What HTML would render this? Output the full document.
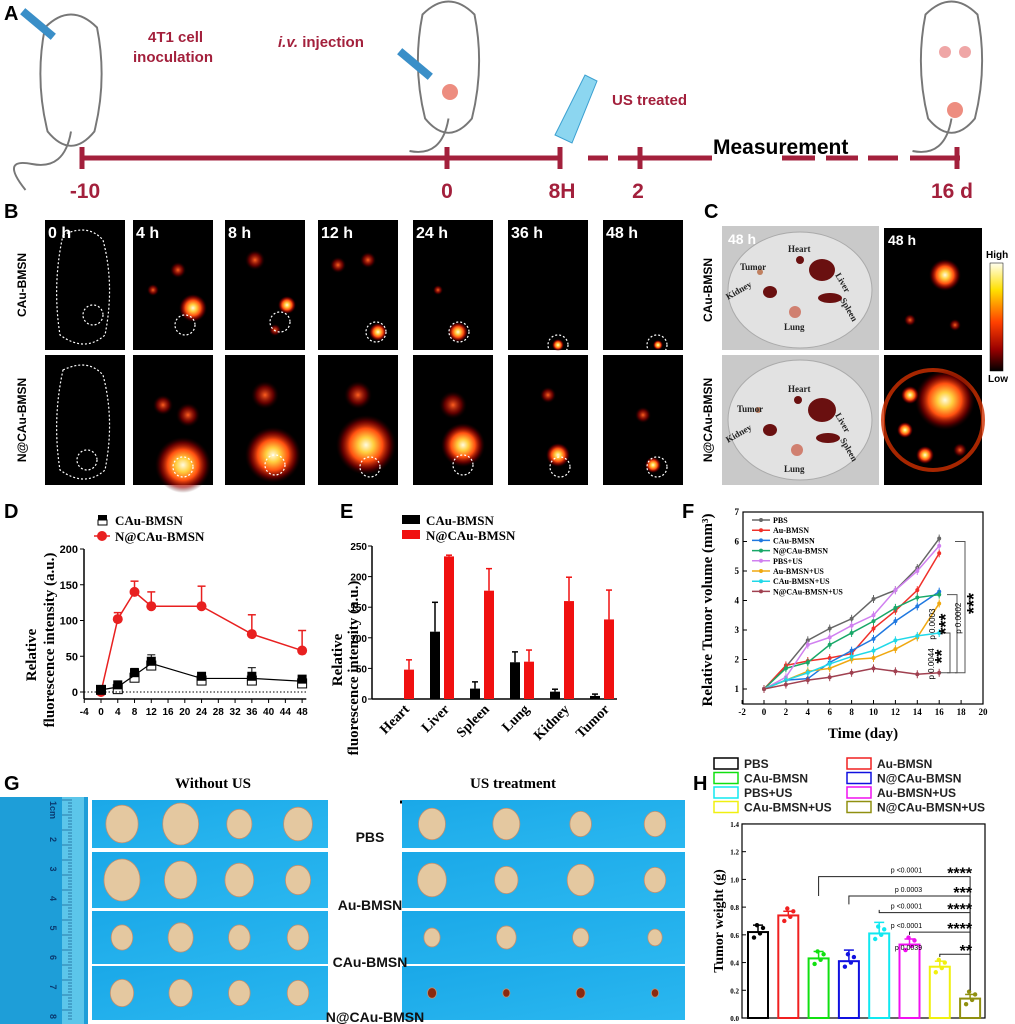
<!DOCTYPE html>
<html><head><meta charset="utf-8"><style>
html,body{margin:0;padding:0;background:#fff}
svg{display:block;font-family:"Liberation Sans",Arial,sans-serif}
.serif{font-family:"Liberation Serif","Times New Roman",serif;font-weight:bold}
</style></head><body>
<svg id="fig" width="1015" height="1024" viewBox="0 0 1015 1024" xmlns="http://www.w3.org/2000/svg">
<defs>
<radialGradient id="glow"><stop offset="0" stop-color="#fffbe0"/><stop offset="0.25" stop-color="#ffd040"/><stop offset="0.55" stop-color="#ff5010"/><stop offset="0.8" stop-color="#a00000" stop-opacity="0.6"/><stop offset="1" stop-color="#300" stop-opacity="0"/></radialGradient>
<radialGradient id="glowdim"><stop offset="0" stop-color="#ff6020"/><stop offset="0.6" stop-color="#a00000" stop-opacity="0.6"/><stop offset="1" stop-color="#200" stop-opacity="0"/></radialGradient>
<linearGradient id="cbar" x1="0" y1="0" x2="0" y2="1"><stop offset="0" stop-color="#fffff0"/><stop offset="0.25" stop-color="#ffe000"/><stop offset="0.55" stop-color="#ff4000"/><stop offset="0.8" stop-color="#900"/><stop offset="1" stop-color="#000"/></linearGradient>
<linearGradient id="blue" x1="0" y1="0" x2="1" y2="1"><stop offset="0" stop-color="#1aa8e8"/><stop offset="1" stop-color="#2bb8f0"/></linearGradient>
</defs>

<g font-weight="bold" font-size="20" fill="#000">
<text x="4" y="20">A</text>
<text x="4" y="218">B</text>
<text x="704" y="218">C</text>
<text x="4" y="518">D</text>
<text x="340" y="518">E</text>
<text x="682" y="518">F</text>
<text x="4" y="790">G</text>
<text x="693" y="790">H</text>
</g>

<g id="panelA">
<g fill="none" stroke="#777" stroke-width="1.5" transform="translate(-20,-5) scale(1.3)">
<path d="M50 25 q20 -20 40 0 q8 40 -2 80 q-18 22 -36 0 q-10 -40 -2 -80z"/><path d="M70 105 q-5 30 -30 25 q-25 -5 -5 20"/></g>
<g fill="#3a8fc8"><rect x="18" y="20" width="40" height="8" transform="rotate(40 38 24)"/></g>
<g fill="none" stroke="#777" stroke-width="1.5" transform="translate(-130,-5) scale(1.3)">
<path d="M425 15 q20 -20 40 0 q8 40 -2 80 q-18 22 -36 0 q-10 -40 -2 -80z"/><path d="M445 95 q-5 30 -30 25"/></g>
<circle cx="450" cy="92" r="8" fill="#e87060" opacity="0.8"/>
<g fill="#3a8fc8"><rect x="395" y="60" width="40" height="8" transform="rotate(40 415 64)"/></g>
<path d="M555 135 l30 -60 l12 6 l-25 62 z" fill="#8cd6f0" stroke="#3a9fd0"/>
<g fill="none" stroke="#777" stroke-width="1.5" transform="translate(-290,-5) scale(1.3)">
<path d="M935 15 q20 -20 40 0 q8 40 -2 80 q-18 22 -36 0 q-10 -40 -2 -80z"/><path d="M955 95 q-5 30 -30 25"/></g>
<circle cx="945" cy="52" r="6" fill="#e88080" opacity="0.7"/><circle cx="965" cy="52" r="6" fill="#e88080" opacity="0.7"/><circle cx="955" cy="110" r="8" fill="#e87060" opacity="0.8"/>
<g fill="#a3203c" font-weight="bold" font-size="15">
<text x="148" y="42">4T1 cell</text>
<text x="133" y="62">inoculation</text>
<text x="278" y="47"><tspan font-style="italic">i.v.</tspan> injection</text>
<text x="612" y="105">US treated</text>
</g>
<text x="713" y="154" font-size="21" font-weight="bold" fill="#000">Measurement</text>
<g id="tl" stroke="#a3203c" stroke-width="5"></g>
<g fill="#a3203c" font-weight="bold" font-size="21" text-anchor="middle">
<text x="85" y="198">-10</text><text x="447" y="198">0</text><text x="562" y="198">8H</text><text x="638" y="198">2</text><text x="952" y="198">16 d</text>
</g>
</g>

<g id="panelB">
<text transform="translate(26,285) rotate(-90)" text-anchor="middle" font-size="12" font-weight="bold">CAu-BMSN</text>
<text transform="translate(26,420) rotate(-90)" text-anchor="middle" font-size="12" font-weight="bold">N@CAu-BMSN</text>
</g>

<g id="panelC">
<rect x="722" y="226" width="157" height="124" fill="#c9c9c9"/>
<ellipse cx="800" cy="290" rx="72" ry="58" fill="#e2e2e2" stroke="#aaa"/>
<rect x="722" y="355" width="157" height="130" fill="#c9c9c9"/>
<ellipse cx="800" cy="420" rx="72" ry="60" fill="#e2e2e2" stroke="#aaa"/>
<g fill="#6a1010">
<ellipse cx="822" cy="270" rx="13" ry="11"/><ellipse cx="830" cy="298" rx="12" ry="5"/><ellipse cx="770" cy="292" rx="7" ry="6"/><circle cx="760" cy="272" r="3" fill="#c08060"/><circle cx="800" cy="260" r="4"/><circle cx="795" cy="312" r="6" fill="#d08070"/>
<ellipse cx="822" cy="410" rx="14" ry="12"/><ellipse cx="828" cy="438" rx="12" ry="5"/><ellipse cx="770" cy="430" rx="7" ry="6"/><circle cx="758" cy="410" r="3" fill="#c08060"/><circle cx="798" cy="400" r="4"/><circle cx="797" cy="450" r="6" fill="#d08070"/>
</g>
<g font-family="Liberation Serif,serif" font-size="9" font-weight="bold" fill="#222">
<text x="788" y="252">Heart</text><text x="740" y="270">Tumor</text><text x="835" y="275" transform="rotate(60 835 275)">Liver</text><text x="728" y="300" transform="rotate(-30 728 300)">Kidney</text><text x="784" y="330">Lung</text><text x="840" y="300" transform="rotate(60 840 300)">Spleen</text>
<text x="788" y="392">Heart</text><text x="737" y="412">Tumor</text><text x="835" y="415" transform="rotate(60 835 415)">Liver</text><text x="728" y="443" transform="rotate(-30 728 443)">Kidney</text><text x="784" y="472">Lung</text><text x="840" y="440" transform="rotate(60 840 440)">Spleen</text>
</g>
<text x="728" y="244" fill="#fff" font-weight="bold" font-size="14">48 h</text>
<rect x="884" y="228" width="98" height="122" fill="#000"/>
<text x="888" y="245" fill="#fff" font-weight="bold" font-size="14">48 h</text>
<circle cx="945" cy="275" r="16" fill="url(#glow)"/><circle cx="910" cy="320" r="6" fill="url(#glowdim)"/><circle cx="955" cy="325" r="6" fill="url(#glowdim)"/>
<rect x="884" y="355" width="98" height="130" fill="#000"/>
<circle cx="933" cy="420" r="50" fill="none" stroke="#d03000" stroke-width="4" opacity="0.8"/>
<circle cx="945" cy="400" r="30" fill="url(#glow)"/><circle cx="910" cy="395" r="9" fill="url(#glow)"/><circle cx="905" cy="430" r="8" fill="url(#glow)"/><circle cx="925" cy="455" r="9" fill="url(#glow)"/><circle cx="960" cy="450" r="7" fill="url(#glowdim)"/>
<rect x="990" y="263" width="13" height="108" fill="url(#cbar)" stroke="#000" stroke-width="0.5"/>
<text x="986" y="258" font-size="10" font-weight="bold">High</text>
<text x="988" y="382" font-size="10" font-weight="bold">Low</text>
<text transform="translate(712,290) rotate(-90)" text-anchor="middle" font-size="12" font-weight="bold">CAu-BMSN</text>
<text transform="translate(712,420) rotate(-90)" text-anchor="middle" font-size="12" font-weight="bold">N@CAu-BMSN</text>
</g>

<g id="panelD"></g>
<g id="panelE"></g>
<g id="panelF"></g>

<g id="panelG">
<rect x="0" y="797" width="88" height="227" fill="#1e9ed8"/>
<rect x="62" y="797" width="22" height="227" fill="#5cc6ea"/>
<g id="ruler" stroke="#0a4a80" stroke-width="0.6"></g>
<g font-size="9" fill="#0a3a70" font-weight="bold" id="rulernums"></g>
<text x="213" y="788" text-anchor="middle" class="serif" font-size="15">Without US</text>
<line x1="105" y1="802" x2="328" y2="802" stroke="#000" stroke-width="3"/>
<text x="513" y="788" text-anchor="middle" class="serif" font-size="15">US treatment</text>
<line x1="400" y1="802" x2="625" y2="802" stroke="#000" stroke-width="3"/>
<g id="photos"></g>
<g font-weight="bold" font-size="14" fill="#111" text-anchor="middle">
<text x="370" y="842">PBS</text>
<text x="370" y="910">Au-BMSN</text>
<text x="370" y="967">CAu-BMSN</text>
<text x="375" y="1022">N@CAu-BMSN</text>
</g>
</g>

<g id="panelH"></g>
</svg>

<script>
const dTimes = [0, 4, 8, 12, 24, 36, 48];
const dRed = [0, 102, 140, 120, 120, 81, 58];
const dRedErr = [5, 9, 15, 20, 28, 27, 28];
const dBlackFilled = [3, 10, 27, 43, 22, 22, 18];
const dBlackOpen = [3, 4, 20, 37, 16, 16, 12];
const dBlackErr = [2, 3, 6, 9, 4, 12, 5];
const dXTicks = [-4, 0, 4, 8, 12, 16, 20, 24, 28, 32, 36, 40, 44, 48];
const dYTicks = [0, 50, 100, 150, 200];

const eOrgans = ["Heart", "Liver", "Spleen", "Lung", "Kidney", "Tumor"];
const eBlack = [0, 110, 17, 60, 12, 5];
const eBlackErr = [0, 48, 11, 17, 4, 3];
const eRed = [48, 233, 177, 61, 160, 130];
const eRedErr = [16, 2, 36, 19, 39, 48];
const eYTicks = [0, 50, 100, 150, 200, 250];

const fDays = [0, 2, 4, 6, 8, 10, 12, 14, 16];
const fNames = ["PBS", "Au-BMSN", "CAu-BMSN", "N@CAu-BMSN", "PBS+US", "Au-BMSN+US", "CAu-BMSN+US", "N@CAu-BMSN+US"];
const fColors = ["#666666", "#f0302a", "#1f78e0", "#18a868", "#d080f0", "#f0a810", "#20d8e8", "#a04050"];
const fPBS = [1, 1.75, 2.65, 3.05, 3.38, 4.05, 4.35, 5.1, 6.1];
const fAu = [1, 1.8, 1.95, 2.05, 2.2, 3.05, 3.65, 4.35, 5.6];
const fCAu = [1, 1.3, 1.35, 1.9, 2.3, 2.7, 3.3, 3.8, 4.3];
const fNCAu = [1, 1.7, 1.9, 2.5, 2.9, 3.3, 3.75, 4.1, 4.2];
const fPBSUS = [1, 1.4, 2.5, 2.75, 3.15, 3.5, 4.35, 5.0, 5.85];
const fAuUS = [1, 1.3, 1.6, 1.7, 2.0, 2.05, 2.35, 2.75, 3.9];
const fCAuUS = [1, 1.3, 1.55, 1.85, 2.1, 2.3, 2.65, 2.8, 2.9];
const fNCAuUS = [1, 1.15, 1.3, 1.4, 1.55, 1.7, 1.6, 1.5, 1.55];
const fXTicks = [-2, 0, 2, 4, 6, 8, 10, 12, 14, 16, 18, 20];
const fYTicks = [1, 2, 3, 4, 5, 6, 7];

const hGroups = ["PBS", "Au-BMSN", "CAu-BMSN", "N@CAu-BMSN", "PBS+US", "Au-BMSN+US", "CAu-BMSN+US", "N@CAu-BMSN+US"];
const hColors = ["#000000", "#f02020", "#10e010", "#1010e0", "#10e8f0", "#f010f0", "#f0f010", "#909010"];
const hMeans = [0.62, 0.74, 0.43, 0.41, 0.61, 0.53, 0.37, 0.14];
const hErr = [0.05, 0.03, 0.05, 0.08, 0.08, 0.04, 0.04, 0.03];
const hYTicks = [0.0, 0.2, 0.4, 0.6, 0.8, 1.0, 1.2, 1.4];

const NS = "http://www.w3.org/2000/svg";
function mk(parent, tag, attrs, text) {
  const e = document.createElementNS(NS, tag);
  for (const k in attrs) e.setAttribute(k, attrs[k]);
  if (text !== undefined) e.textContent = text;
  parent.appendChild(e);
  return e;
}

(function () {
  const g = document.getElementById('tl');
  [[80, 560], [588, 608], [618, 712], [782, 815], [826, 858], [868, 898], [910, 960]].forEach(s => {
    mk(g, 'line', { x1: s[0], y1: 158, x2: s[1], y2: 158 });
  });
  [82, 447, 560, 640, 957].forEach(x => mk(g, 'line', { x1: x, y1: 147, x2: x, y2: 169 }));
})();

(function () {
  const g = document.getElementById('panelB');
  const cols = [45, 133, 225, 318, 413, 508, 603];
  const labels = ["0 h", "4 h", "8 h", "12 h", "24 h", "36 h", "48 h"];
  const rows = [[220, 130], [355, 130]];
  const blobs1 = [[], [[60, 88, 14, 1], [20, 70, 6, 0], [45, 50, 8, 0]], [[62, 85, 9, 1], [30, 40, 10, 0], [50, 110, 6, 0]], [[60, 112, 9, 1], [20, 45, 8, 0], [50, 40, 8, 0]], [[45, 112, 10, 1], [25, 70, 5, 0]], [[50, 125, 6, 1]], [[55, 125, 5, 1]]];
  const blobs2 = [[], [[50, 110, 28, 1], [30, 50, 10, 0], [55, 60, 12, 0]], [[48, 100, 28, 1], [40, 40, 14, 0]], [[48, 90, 30, 1], [40, 40, 14, 0]], [[50, 90, 22, 1], [40, 50, 14, 0]], [[50, 100, 12, 1], [40, 40, 8, 0]], [[50, 110, 8, 1], [40, 60, 8, 0]]];
  cols.forEach((x, i) => {
    rows.forEach((r, ri) => {
      const rect = mk(g, 'rect', { x: x, y: r[0], width: 80, height: r[1], fill: '#000' });
      
      
      const bl = ri === 0 ? blobs1[i] : blobs2[i];
      bl.forEach(b => mk(g, 'circle', { cx: x + b[0], cy: r[0] + b[1], r: b[2], fill: b[3] ? 'url(#glow)' : 'url(#glowdim)' }));
      if (i === 0) {
        mk(g, 'path', { d: `M${x + 18} ${r[0] + 15} q25 -12 40 5 q12 45 2 95 q-20 18 -45 0 q-8 -50 3 -100z`, fill: 'none', stroke: '#fff', 'stroke-width': 1.2, 'stroke-dasharray': '2 2' });
      }
      const cy = ri === 0 ? [95, 105, 102, 112, 112, 125, 125][i] : [105, 112, 110, 112, 110, 112, 112][i];
      const cxo = ri === 0 ? [48, 52, 55, 58, 46, 50, 54][i] : [42, 50, 50, 52, 50, 52, 54][i];
      mk(g, 'circle', { cx: x + cxo, cy: r[0] + cy, r: 10, fill: 'none', stroke: '#fff', 'stroke-width': 1.2, 'stroke-dasharray': '2 2' });
      if (ri === 0) {
        const t = mk(g, 'text', { x: x + 3, y: r[0] + 18, fill: '#fff', 'font-size': 16, 'font-weight': 'bold' }, labels[i]);
        
        
      }
    });
  });
})();

(function () {
  const g = document.getElementById('panelD');
  const X = v => 101 + (v - 0) * 4.19;
  const Y = v => 692 - v * 0.715;
  mk(g, 'line', { x1: 84, y1: Y(200), x2: 84, y2: 699, stroke: '#000', 'stroke-width': 1.5 });
  mk(g, 'line', { x1: 84, y1: 699, x2: X(49), y2: 699, stroke: '#000', 'stroke-width': 1.5 });
  mk(g, 'line', { x1: 84, y1: Y(0), x2: X(49), y2: Y(0), stroke: '#000', 'stroke-dasharray': '1.5 2' });
  dYTicks.forEach(v => {
    mk(g, 'line', { x1: 80, y1: Y(v), x2: 84, y2: Y(v), stroke: '#000' });
    mk(g, 'text', { x: 78, y: Y(v) + 4, 'text-anchor': 'end', 'font-size': 11, 'font-weight': 'bold' }, v);
  });
  dXTicks.forEach(v => {
    mk(g, 'line', { x1: X(v), y1: 699, x2: X(v), y2: 703, stroke: '#000' });
    mk(g, 'text', { x: X(v), y: 715, 'text-anchor': 'middle', 'font-size': 10, 'font-weight': 'bold' }, v);
  });
  mk(g, 'polyline', { points: dTimes.map((t, i) => X(t) + ',' + Y(dRed[i])).join(' '), fill: 'none', stroke: '#e82020', 'stroke-width': 1.5 });
  dTimes.forEach((t, i) => {
    mk(g, 'line', { x1: X(t), y1: Y(dRed[i]), x2: X(t), y2: Y(dRed[i] + dRedErr[i]), stroke: '#e82020', 'stroke-width': 1.5 });
    mk(g, 'line', { x1: X(t) - 4, y1: Y(dRed[i] + dRedErr[i]), x2: X(t) + 4, y2: Y(dRed[i] + dRedErr[i]), stroke: '#e82020', 'stroke-width': 1.5 });
    const c = mk(g, 'circle', { cx: X(t), cy: Y(dRed[i]), r: 5, fill: '#e82020' });
    
    
  });
  mk(g, 'polyline', { points: dTimes.map((t, i) => X(t) + ',' + Y((dBlackFilled[i] + dBlackOpen[i]) / 2)).join(' '), fill: 'none', stroke: '#000', 'stroke-width': 1.2 });
  dTimes.forEach((t, i) => {
    mk(g, 'line', { x1: X(t), y1: Y(dBlackFilled[i]), x2: X(t), y2: Y(dBlackFilled[i] + dBlackErr[i]), stroke: '#000' });
    mk(g, 'line', { x1: X(t) - 4, y1: Y(dBlackFilled[i] + dBlackErr[i]), x2: X(t) + 4, y2: Y(dBlackFilled[i] + dBlackErr[i]), stroke: '#000' });
    const s = mk(g, 'rect', { x: X(t) - 4.5, y: Y(dBlackFilled[i]) - 4.5, width: 9, height: 9, fill: '#000' });
    
    
    mk(g, 'rect', { x: X(t) - 4.5, y: Y(dBlackOpen[i]) - 4.5, width: 9, height: 9, fill: 'none', stroke: '#000' });
  });
  mk(g, 'rect', { x: 98, y: 515, width: 9, height: 5, fill: '#000' });
  mk(g, 'rect', { x: 98, y: 520, width: 9, height: 5, fill: '#fff', stroke: '#000' });
  mk(g, 'text', { x: 115, y: 525, 'font-size': 13, class: 'serif' }, 'CAu-BMSN');
  mk(g, 'circle', { cx: 102, cy: 536, r: 5, fill: '#e82020' });
  mk(g, 'line', { x1: 94, y1: 536, x2: 110, y2: 536, stroke: '#e82020', 'stroke-width': 1.5 });
  mk(g, 'text', { x: 115, y: 541, 'font-size': 13, class: 'serif' }, 'N@CAu-BMSN');
  mk(g, 'text', { transform: 'translate(36,655) rotate(-90)', 'text-anchor': 'middle', 'font-size': 15, class: 'serif' }, 'Relative');
  mk(g, 'text', { transform: 'translate(54,640) rotate(-90)', 'text-anchor': 'middle', 'font-size': 15, class: 'serif' }, 'fluorescence intensity (a.u.)');
})();

(function () {
  const g = document.getElementById('panelE');
  const C = i => 402 + i * 40;
  const Y = v => 699 - v * 0.612;
  mk(g, 'line', { x1: 372, y1: Y(250), x2: 372, y2: 699, stroke: '#000', 'stroke-width': 1.5 });
  mk(g, 'line', { x1: 372, y1: 699, x2: 617, y2: 699, stroke: '#000', 'stroke-width': 1.5 });
  eYTicks.forEach(v => {
    mk(g, 'line', { x1: 368, y1: Y(v), x2: 372, y2: Y(v), stroke: '#000' });
    mk(g, 'text', { x: 367, y: Y(v) + 4, 'text-anchor': 'end', 'font-size': 10, 'font-weight': 'bold' }, v);
  });
  eOrgans.forEach((o, i) => {
    const bx = C(i) - 12, rx = C(i) + 2;
    const b = mk(g, 'rect', { x: bx, y: Y(eBlack[i]), width: 10, height: eBlack[i] * 0.612, fill: '#000' });
    
    
    if (eBlack[i] > 0) {
      mk(g, 'line', { x1: bx + 5, y1: Y(eBlack[i]), x2: bx + 5, y2: Y(eBlack[i] + eBlackErr[i]), stroke: '#000', 'stroke-width': 1.5 });
      mk(g, 'line', { x1: bx + 2, y1: Y(eBlack[i] + eBlackErr[i]), x2: bx + 8, y2: Y(eBlack[i] + eBlackErr[i]), stroke: '#000', 'stroke-width': 1.5 });
    }
    const r = mk(g, 'rect', { x: rx, y: Y(eRed[i]), width: 10, height: eRed[i] * 0.612, fill: '#f01010' });
    
    
    mk(g, 'line', { x1: rx + 5, y1: Y(eRed[i]), x2: rx + 5, y2: Y(eRed[i] + eRedErr[i]), stroke: '#f01010', 'stroke-width': 1.5 });
    mk(g, 'line', { x1: rx + 2, y1: Y(eRed[i] + eRedErr[i]), x2: rx + 8, y2: Y(eRed[i] + eRedErr[i]), stroke: '#f01010', 'stroke-width': 1.5 });
    mk(g, 'text', { transform: `translate(${C(i) + 8},710) rotate(-45)`, 'text-anchor': 'end', 'font-size': 14, class: 'serif' }, o);
  });
  mk(g, 'rect', { x: 402, y: 515, width: 18, height: 9, fill: '#000' });
  mk(g, 'text', { x: 426, y: 525, 'font-size': 13, class: 'serif' }, 'CAu-BMSN');
  mk(g, 'rect', { x: 402, y: 530, width: 18, height: 9, fill: '#f01010' });
  mk(g, 'text', { x: 426, y: 540, 'font-size': 13, class: 'serif' }, 'N@CAu-BMSN');
  mk(g, 'text', { transform: 'translate(342,660) rotate(-90)', 'text-anchor': 'middle', 'font-size': 15, class: 'serif' }, 'Relative');
  mk(g, 'text', { transform: 'translate(358,668) rotate(-90)', 'text-anchor': 'middle', 'font-size': 15, class: 'serif' }, 'fluorescence intensity (a.u.)');
})();

(function () {
  const g = document.getElementById('panelF');
  const X = v => 764 + v * 10.95;
  const Y = v => 689 - (v - 1) * 29.5;
  const series = [fPBS, fAu, fCAu, fNCAu, fPBSUS, fAuUS, fCAuUS, fNCAuUS];
  mk(g, 'rect', { x: 743, y: Y(7), width: 240, height: 704 - Y(7), fill: 'none', stroke: '#000', 'stroke-width': 1.2 });
  fYTicks.forEach(v => {
    mk(g, 'line', { x1: 743, y1: Y(v), x2: 747, y2: Y(v), stroke: '#000' });
    mk(g, 'text', { x: 739, y: Y(v) + 3, 'text-anchor': 'end', 'font-size': 9, class: 'serif' }, v);
  });
  fXTicks.forEach(v => {
    mk(g, 'line', { x1: X(v), y1: 704, x2: X(v), y2: 700, stroke: '#000' });
    mk(g, 'text', { x: X(v), y: 715, 'text-anchor': 'middle', 'font-size': 9, class: 'serif' }, v);
  });
  series.forEach((s, k) => {
    const pl = mk(g, 'polyline', { points: fDays.map((d, i) => X(d) + ',' + Y(s[i])).join(' '), fill: 'none', stroke: fColors[k], 'stroke-width': 1.5 });
    
    
    fDays.forEach((d, i) => {
      mk(g, 'line', { x1: X(d), y1: Y(s[i]) - 4, x2: X(d), y2: Y(s[i]) + 4, stroke: fColors[k] });
      mk(g, 'circle', { cx: X(d), cy: Y(s[i]), r: 2, fill: fColors[k] });
    });
    const ly = 520 + k * 10.2;
    mk(g, 'line', { x1: 752, y1: ly, x2: 770, y2: ly, stroke: fColors[k], 'stroke-width': 1.5 });
    mk(g, 'circle', { cx: 761, cy: ly, r: 2, fill: fColors[k] });
    mk(g, 'text', { x: 773, y: ly + 3, 'font-size': 8, class: 'serif' }, fNames[k]);
  });
  const br = (x, y1, y2) => mk(g, 'path', { d: `M${x - 10} ${y1} H${x} V${y2} H${x - 10}`, fill: 'none', stroke: '#555' });
  br(965, Y(6.0), Y(1.55));
  br(957, Y(4.2), Y(1.55));
  br(950, Y(2.9), Y(1.55));
  mk(g, 'text', { transform: `translate(${935},${Y(3.2)}) rotate(-90)`, 'font-size': 8, 'text-anchor': 'middle' }, 'p 0.0003');
  mk(g, 'text', { transform: `translate(${961},${Y(3.4)}) rotate(-90)`, 'font-size': 8, 'text-anchor': 'middle' }, 'p 0.0002');
  mk(g, 'text', { transform: `translate(${934},${Y(1.85)}) rotate(-90)`, 'font-size': 8, 'text-anchor': 'middle' }, 'p 0.0044');
  mk(g, 'text', { transform: `translate(${952},${Y(3.2)}) rotate(-90)`, 'font-size': 18, 'font-weight': 'bold', 'text-anchor': 'middle' }, '***');
  mk(g, 'text', { transform: `translate(${980},${Y(3.9)}) rotate(-90)`, 'font-size': 18, 'font-weight': 'bold', 'text-anchor': 'middle' }, '***');
  mk(g, 'text', { transform: `translate(${948},${Y(2.1)}) rotate(-90)`, 'font-size': 18, 'font-weight': 'bold', 'text-anchor': 'middle' }, '**');
  mk(g, 'text', { x: 863, y: 738, 'text-anchor': 'middle', 'font-size': 15, class: 'serif' }, 'Time (day)');
  mk(g, 'text', { transform: 'translate(712,610) rotate(-90)', 'text-anchor': 'middle', 'font-size': 15, class: 'serif' }, 'Relative Tumor volume (mm³)');
})();

(function () {
  const g = document.getElementById('photos');
  const rows = [[800, 48], [852, 56], [911, 53], [966, 54]];
  const lefts = [[92, 328], [402, 685]];
  const sizesL = [[18, 20, 14, 16], [20, 18, 16, 14], [12, 14, 12, 12], [13, 13, 12, 12]];
  const sizesR = [[15, 15, 12, 12], [16, 13, 15, 12], [9, 11, 9, 8], [5, 4, 5, 4]];
  rows.forEach((r, ri) => {
    lefts.forEach((l, li) => {
      const rc = mk(g, 'rect', { x: l[0], y: r[0], width: l[1] - l[0], height: r[1], fill: 'url(#blue)' });
      
      
      const sz = li === 0 ? sizesL[ri] : sizesR[ri];
      for (let k = 0; k < 4; k++) {
        const cx = l[0] + 30 + k * ((l[1] - l[0] - 60) / 3);
        mk(g, 'ellipse', { cx: cx, cy: r[0] + r[1] / 2, rx: sz[k] * 0.9, ry: sz[k] * 1.05, fill: ri === 3 && li === 1 ? '#8a2a10' : '#e4c8a0', stroke: '#c09070', 'stroke-width': 0.8 });
      }
    });
  });
  const rg = document.getElementById('ruler');
  for (let y = 800; y < 1022; y += 3) {
    mk(rg, 'line', { x1: 72, y1: y, x2: (y - 800) % 15 === 0 ? 62 : 68, y2: y });
  }
  const rn = document.getElementById('rulernums');
  ['1cm', '2', '3', '4', '5', '6', '7', '8'].forEach((t, i) => {
    mk(rn, 'text', { transform: `translate(50,${810 + i * 29.5}) rotate(90)`, 'text-anchor': 'middle' }, t);
  });
})();

(function () {
  const g = document.getElementById('panelH');
  const X = i => 758 + i * 30.3;
  const Y = v => 1018 - v * 138.6;
  mk(g, 'rect', { x: 742, y: Y(1.4), width: 243, height: 1018 - Y(1.4), fill: 'none', stroke: '#000', 'stroke-width': 1.2 });
  hYTicks.forEach(v => {
    mk(g, 'line', { x1: 742, y1: Y(v), x2: 746, y2: Y(v), stroke: '#000' });
    mk(g, 'text', { x: 739, y: Y(v) + 3, 'text-anchor': 'end', 'font-size': 7, class: 'serif' }, v.toFixed(1));
  });
  hGroups.forEach((n, i) => {
    const b = mk(g, 'rect', { x: X(i) - 10, y: Y(hMeans[i]), width: 20, height: hMeans[i] * 138.6, fill: 'none', stroke: hColors[i], 'stroke-width': 2 });
    
    
    mk(g, 'line', { x1: X(i), y1: Y(hMeans[i]), x2: X(i), y2: Y(hMeans[i] + hErr[i]), stroke: hColors[i], 'stroke-width': 1.5 });
    mk(g, 'line', { x1: X(i) - 5, y1: Y(hMeans[i] + hErr[i]), x2: X(i) + 5, y2: Y(hMeans[i] + hErr[i]), stroke: hColors[i], 'stroke-width': 1.5 });
    [-0.04, 0.05, -0.01, 0.03].forEach((d, k) => mk(g, 'circle', { cx: X(i) - 4 + k * 3, cy: Y(hMeans[i] + d), r: 2.2, fill: hColors[i] }));
    const col = i % 2, row = Math.floor(i / 2);
    const lx = col === 0 ? 714 : 847, ly = 763 + row * 14.5;
    mk(g, 'rect', { x: lx, y: ly - 5, width: 24, height: 11, fill: 'none', stroke: hColors[i], 'stroke-width': 1.5 });
    mk(g, 'text', { x: lx + 30, y: ly + 5, 'font-size': 12, 'font-weight': 'bold', fill: '#222' }, n);
  });
  const brk = [[2, 0.88, 'p <0.0001', '****', 1.08], [3, 0.82, 'p 0.0003', '***', 0.94], [4, 0.78, 'p <0.0001', '****', 0.82], [5, 0.60, 'p <0.0001', '****', 0.68], [6, 0.44, 'p 0.0039', '**', 0.52]];
  brk.forEach(b => {
    const y = Y(b[4] - 0.06);
    mk(g, 'path', { d: `M${X(b[0])} ${Y(b[1])} V${y} H${X(7)} V${Y(0.2)}`, fill: 'none', stroke: '#222', 'stroke-width': 1 });
    mk(g, 'text', { x: X(7) - 48, y: y - 4, 'font-size': 7, 'text-anchor': 'end' }, b[2]);
    mk(g, 'text', { x: X(7) + 2, y: y + 2, 'font-size': 16, 'font-weight': 'bold', 'text-anchor': 'end' }, b[3]);
  });
  mk(g, 'text', { transform: 'translate(723,921) rotate(-90)', 'text-anchor': 'middle', 'font-size': 14, class: 'serif' }, 'Tumor weight (g)');
})();
</script>
</body></html>
